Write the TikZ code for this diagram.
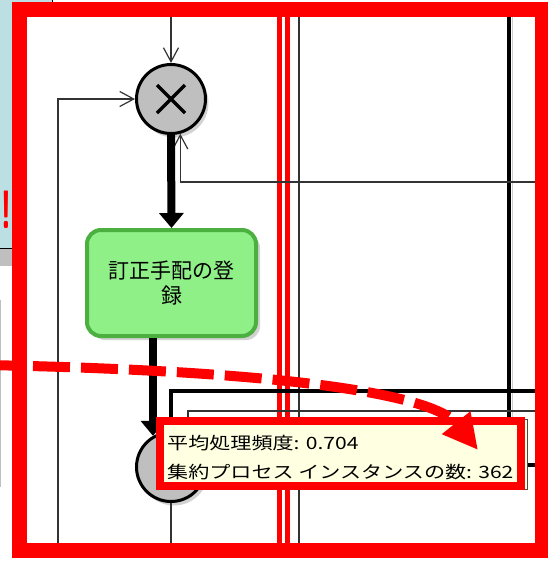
\documentclass[tikz,border=0pt]{standalone}
\usepackage{fontspec}
\usepackage{graphicx}
\newfontfamily\jpfont{Noto Sans CJK JP}
\usepackage{tikz}
\usetikzlibrary{arrows.meta,positioning,calc,shadows}
\definecolor{panelblue}{RGB}{187,223,227}
\definecolor{taskgreen}{RGB}{144,240,136}
\definecolor{taskedge}{RGB}{76,176,64}
\definecolor{tipyellow}{RGB}{255,255,225}
\tikzstyle{gateway}=[draw,line width=3pt,fill=black!25,circle,minimum size=69pt,inner sep=0pt,drop shadow={shadow xshift=3pt,shadow yshift=-4pt,opacity=0.35}]
\tikzstyle{task}=[draw=taskedge,line width=4pt,fill=taskgreen,rounded corners=14pt,minimum width=169pt,minimum height=106pt,align=center,font=\jpfont\fontsize{21}{25}\selectfont,drop shadow={shadow xshift=4pt,shadow yshift=-4pt,opacity=0.35}]
\tikzstyle{bigflow}=[line width=8pt,-{Triangle[length=15pt,width=24pt]}]
\tikzstyle{flow}=[line width=1.2pt,black!80,-{Straight Barb[length=14pt,width=15pt]}]
\tikzstyle{lane}=[line width=1.5pt,black!80]
\tikzstyle{tiptext}=[anchor=west,inner sep=0pt,font=\jpfont\fontsize{17}{20}\selectfont]

\begin{document}
\begin{tikzpicture}[x=1pt,y=-1pt]
\useasboundingbox (0,0) rectangle (548,563);
\clip (0,0) rectangle (548,563);
\fill[white] (0,0) rectangle (548,563);
% panel on the left, mostly hidden
\filldraw[fill=panelblue,draw=black,line width=1pt] (-2,-2) rectangle (52,248);
\fill[black!25] (-2,249) rectangle (30,266);
\node[anchor=south west,inner sep=0pt,text=red,font=\sffamily\bfseries\fontsize{40}{40}\selectfont] (bang) at (0,229) {\scalebox{0.8}[1.35]{!}};
\draw[black!25,line width=1.5pt] (0.5,300) -- (0.5,487);
% canvas
\fill[white] (12,2) rectangle (548,558);
% lanes
\draw[red,line width=5pt] (279,10) -- (279,552);
\draw[red,line width=5pt] (287,10) -- (287,552);
\draw[lane] (299,10) -- (299,552);
\draw[black!20,line width=1.5pt] (512.5,10) -- (512.5,465);
\draw[line width=4pt] (509,10) -- (509,465) -- (548,465);

\node[gateway] (gw1) at (171,99) {};
\draw[line width=3.5pt] ($(gw1)+(-14,-14)$) -- ($(gw1)+(14,14)$)
  ($(gw1)+(-14,14)$) -- ($(gw1)+(14,-14)$);
\node[task] (task) at (171.5,283) {訂正手配の登\\録};
\node[gateway] (gw2) at (171,467) {};

% free ends at the canvas edge
\coordinate (topin) at (171,8);
\coordinate (leftin) at (58,552);
\coordinate (rightin) at (548,182);
\coordinate (thickin) at (548,391);
\coordinate (thinin) at (548,411);
\coordinate (bottomout) at (171,552);

\draw[flow] (topin) -- (gw1.north);
\draw[flow] (leftin) |- (gw1.west);
\draw[flow] (rightin) -| (gw1.-75);
\draw[bigflow] (gw1.south) -- (task.north);
\draw[bigflow] (task.south -| gw2.120) -- (gw2.120);
\draw[line width=4pt,-{Triangle[length=12pt,width=16pt]}] (thickin) -| (gw2.north);
\draw[flow] (thinin) -| (gw2.62);
\draw[flow,-] (gw2.south) -- (bottomout);

% tooltip
\filldraw[fill=tipyellow,draw=black!70,line width=1pt] (158,419) rectangle (527,489);
\node[tiptext] (avg) at (167,443) {\scalebox{1.24}[1]{平均処理頻度: 0.704}};
\node[tiptext] (cnt) at (167,472) {\scalebox{1.24}[1]{集約プロセス インスタンスの数: 362}};
\draw[red,line width=8pt] (159.5,421) rectangle (521,486);

% callout
\coordinate (callout) at (-15,365);
\coordinate (calltip) at (478,450);
\draw[red,line width=10pt,dash pattern=on 37pt off 11pt,-{Triangle[length=35pt,width=34pt]}]
  (callout) .. controls (250,370) and (430,390) .. (calltip);
\draw[red,line width=15pt] (19.5,9.5) rectangle (542.5,550.5);
\end{tikzpicture}
\end{document}
